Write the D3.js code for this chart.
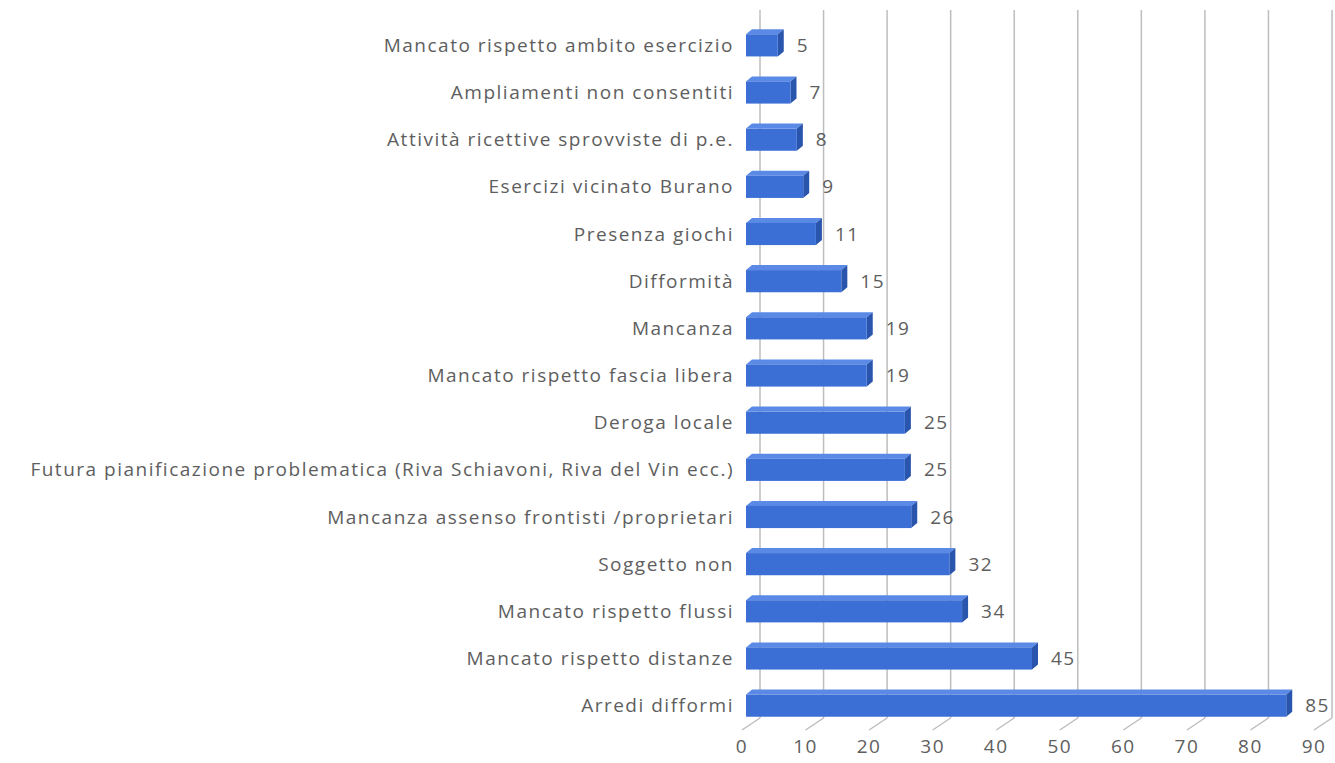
<!DOCTYPE html>
<html>
<head>
<meta charset="utf-8">
<script src="https://cdn.jsdelivr.net/npm/d3@7"></script>
<style>
  body { margin: 0; background: #fff; }
  svg { display: block; }
</style>
</head>
<body>
<svg id="chart" width="1335" height="763"></svg>
<script>
const categories = [
  'Mancato rispetto ambito esercizio',
  'Ampliamenti non consentiti',
  'Attività ricettive sprovviste di p.e.',
  'Esercizi vicinato Burano',
  'Presenza giochi',
  'Difformità',
  'Mancanza',
  'Mancato rispetto fascia libera',
  'Deroga locale',
  'Futura pianificazione problematica (Riva Schiavoni, Riva del Vin ecc.)',
  'Mancanza assenso frontisti /proprietari',
  'Soggetto non',
  'Mancato rispetto flussi',
  'Mancato rispetto distanze',
  'Arredi difformi'
]
const values = [5, 7, 8, 9, 11, 15, 19, 19, 25, 25, 26, 32, 34, 45, 85]
const ticks = [0, 10, 20, 30, 40, 50, 60, 70, 80, 90]

const font = 'Open Sans'
const fontSize = 19
const spacing = '1.5px'
const textColor = '#5e5e5e'
const barColor = '#3b6fd6'
const topColor = '#5a8ae6'
const sideColor = '#2a55ad'
const gridColor = '#bdbdbd'

// 3d depth of the plot: back wall vs front edge
const depthX = -18
const depthY = 12

const svg = d3.select('#chart')

const xBack = d3.scaleLinear().domain([0, 90]).range([760, 1332])
const xFront = d3.scaleLinear().domain([0, 90]).range([746, 1318])

const yScale = d3.scaleBand()
  .domain(categories)
  .range([22, 729])
  .paddingInner(0.53)
  .paddingOuter(0.26)

const wallTop = 10
const wallBottom = 718

// back wall gridlines
svg.append('g')
  .selectAll('line')
  .data(ticks)
  .enter()
  .append('line')
  .attr('x1', (d) => xBack(d))
  .attr('x2', (d) => xBack(d))
  .attr('y1', wallTop)
  .attr('y2', wallBottom)
  .attr('stroke', gridColor)
  .attr('stroke-width', 1.5)

// floor diagonal ticks
svg.append('g')
  .selectAll('line')
  .data(ticks)
  .enter()
  .append('line')
  .attr('x1', (d) => xBack(d))
  .attr('y1', wallBottom)
  .attr('x2', (d) => xBack(d) + depthX)
  .attr('y2', wallBottom + depthY)
  .attr('stroke', gridColor)
  .attr('stroke-width', 1.5)

// x tick labels
svg.append('g')
  .selectAll('text')
  .data(ticks)
  .enter()
  .append('text')
  .attr('x', (d) => xBack(d) + depthX)
  .attr('y', 753)
  .attr('text-anchor', 'middle')
  .attr('font-family', font)
  .attr('font-size', fontSize)
  .style('letter-spacing', spacing)
  .style('fill', textColor)
  .text((d) => d)

const data = categories.map((c, i) => ({ cat: c, val: values[i] }))
const bh = yScale.bandwidth()
const topDx = 6
const topDy = -5

const bars = svg.selectAll('.bar')
  .data(data)
  .enter()
  .append('g')
  .attr('class', 'bar')

// top face
bars.append('path')
  .attr('d', (d) => {
    const x0 = xFront(0), x1 = xFront(d.val), y = yScale(d.cat)
    return `M${x0},${y} L${x0 + topDx},${y + topDy} L${x1 + topDx},${y + topDy} L${x1},${y} Z`
  })
  .style('fill', topColor)

// side face
bars.append('path')
  .attr('d', (d) => {
    const x1 = xFront(d.val), y = yScale(d.cat)
    return `M${x1},${y} L${x1 + topDx},${y + topDy} L${x1 + topDx},${y + topDy + bh} L${x1},${y + bh} Z`
  })
  .style('fill', sideColor)

// front face
bars.append('rect')
  .attr('x', xFront(0))
  .attr('y', (d) => yScale(d.cat))
  .attr('width', (d) => xFront(d.val) - xFront(0))
  .attr('height', bh)
  .style('fill', barColor)

// value labels
bars.append('text')
  .attr('x', (d) => xFront(d.val) + 19)
  .attr('y', (d) => yScale(d.cat) + bh / 2)
  .attr('dy', '0.35em')
  .attr('font-family', font)
  .attr('font-size', fontSize)
  .style('letter-spacing', spacing)
  .style('fill', textColor)
  .text((d) => d.val)

// category labels
svg.append('g')
  .selectAll('text')
  .data(categories)
  .enter()
  .append('text')
  .attr('x', 734)
  .attr('y', (d) => yScale(d) + bh / 2)
  .attr('dy', '0.35em')
  .attr('text-anchor', 'end')
  .attr('font-family', font)
  .attr('font-size', fontSize)
  .style('letter-spacing', spacing)
  .style('fill', textColor)
  .text((d) => d)
</script>
</body>
</html>
